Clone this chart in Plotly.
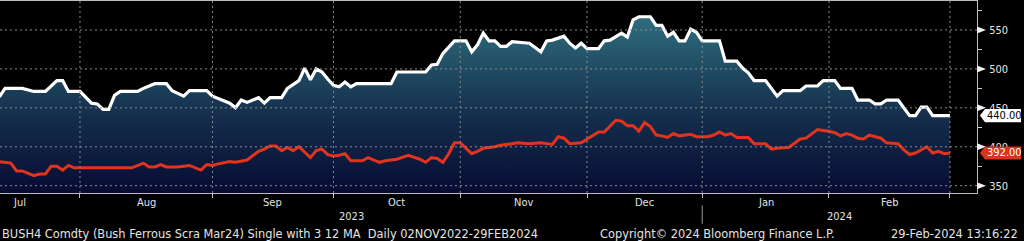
import numpy as np
import pandas as pd
import plotly.graph_objects as go

# ---------------- data ----------------
white_dates = ["2023-07-11","2023-07-12","2023-07-17","2023-07-19","2023-07-21","2023-07-25","2023-07-26","2023-07-27","2023-07-31",
    "2023-08-02","2023-08-03","2023-08-04","2023-08-07","2023-08-08","2023-08-09","2023-08-14","2023-08-15","2023-08-17","2023-08-21",
    "2023-08-22","2023-08-24","2023-08-25","2023-08-30","2023-08-31","2023-09-05","2023-09-06","2023-09-07","2023-09-08","2023-09-12",
    "2023-09-13","2023-09-14","2023-09-18","2023-09-19","2023-09-21","2023-09-22","2023-09-25","2023-09-26","2023-09-27","2023-09-28",
    "2023-09-29","2023-10-02","2023-10-03","2023-10-04","2023-10-05","2023-10-13","2023-10-16","2023-10-23","2023-10-24","2023-10-25",
    "2023-10-26","2023-10-30","2023-11-01","2023-11-02","2023-11-03","2023-11-06","2023-11-07","2023-11-08","2023-11-09","2023-11-10",
    "2023-11-13","2023-11-16","2023-11-17","2023-11-20","2023-11-21","2023-11-22","2023-11-24","2023-11-27","2023-11-28","2023-11-29",
    "2023-11-30","2023-12-04","2023-12-05","2023-12-06","2023-12-08","2023-12-11","2023-12-12","2023-12-13","2023-12-15","2023-12-18",
    "2023-12-19","2023-12-20","2023-12-21","2023-12-22","2023-12-26","2023-12-27","2023-12-28","2023-12-29","2024-01-04","2024-01-05",
    "2024-01-09","2024-01-10","2024-01-11","2024-01-12","2024-01-16","2024-01-18","2024-01-19","2024-01-24","2024-01-25","2024-01-29",
    "2024-01-30","2024-02-01","2024-02-02","2024-02-06","2024-02-07","2024-02-09","2024-02-12","2024-02-13","2024-02-14","2024-02-16",
    "2024-02-20","2024-02-21","2024-02-22","2024-02-23","2024-02-26","2024-02-29"]
white_vals = [464,475,475,471,471,485,485,471,471,
    456,455,448,448,466,471,471,475,481,481,
    472,465,472,472,465,456,450,460,457,463,
    456,463,463,475,485,501,486,500,496,487,
    479,477,483,477,481,481,496,496,505,506,
    520,536,536,522,531,546,536,536,529,529,
    535,533,528,522,536,537,542,533,527,533,
    526,526,536,537,546,541,563,567,567,556,
    556,542,547,536,536,551,547,536,536,510,
    510,501,495,485,485,465,472,472,478,478,
    485,485,475,475,460,460,455,455,460,460,
    440,440,451,451,440,440]

red_dates = ["2023-07-11","2023-07-13","2023-07-14","2023-07-17","2023-07-19","2023-07-20","2023-07-21","2023-07-24","2023-07-25",
    "2023-07-26","2023-07-27","2023-07-28","2023-08-11","2023-08-15","2023-08-16","2023-08-17","2023-08-18","2023-08-21","2023-08-23",
    "2023-08-25","2023-08-29","2023-08-30","2023-08-31","2023-09-01","2023-09-05","2023-09-06","2023-09-08","2023-09-12","2023-09-13",
    "2023-09-14","2023-09-15","2023-09-18","2023-09-19","2023-09-20","2023-09-21","2023-09-25","2023-09-26","2023-09-27","2023-09-28",
    "2023-09-29","2023-10-02","2023-10-03","2023-10-04","2023-10-06","2023-10-09","2023-10-11","2023-10-12","2023-10-16","2023-10-18",
    "2023-10-20","2023-10-23","2023-10-24","2023-10-25","2023-10-26","2023-10-27","2023-10-30","2023-10-31","2023-11-02","2023-11-03",
    "2023-11-06","2023-11-08","2023-11-09","2023-11-10","2023-11-14","2023-11-16","2023-11-20","2023-11-22","2023-11-23","2023-11-24",
    "2023-11-27","2023-11-29","2023-12-01","2023-12-04","2023-12-05","2023-12-07","2023-12-08","2023-12-11","2023-12-12","2023-12-13",
    "2023-12-14","2023-12-15","2023-12-18","2023-12-19","2023-12-20","2023-12-21","2023-12-22","2023-12-27","2023-12-28","2024-01-02",
    "2024-01-03","2024-01-04","2024-01-05","2024-01-08","2024-01-09","2024-01-11","2024-01-12","2024-01-16","2024-01-17","2024-01-18",
    "2024-01-22","2024-01-24","2024-01-25","2024-01-29","2024-01-30","2024-01-31","2024-02-01","2024-02-02","2024-02-05","2024-02-06",
    "2024-02-07","2024-02-08","2024-02-09","2024-02-13","2024-02-14","2024-02-16","2024-02-19","2024-02-20","2024-02-21","2024-02-22",
    "2024-02-23","2024-02-26","2024-02-27","2024-02-28","2024-02-29"]
red_vals = [381,379,369,369,363,365,365,375,375,
    370,376,373,373,379,374,374,377,374,374,
    376,370,377,376,378,381,380,383,394,397,
    401,401,395,399,395,400,386,395,397,390,
    388,389,391,382,382,386,380,382,384,389,
    384,380,386,385,380,391,405,405,391,394,
    398,400,402,403,405,404,405,403,413,411,
    404,405,414,419,419,434,433,427,427,420,
    431,426,415,414,412,417,414,416,413,413,
    415,419,415,417,412,412,404,404,397,398,
    399,410,411,422,421,420,418,414,417,415,
    411,410,415,411,405,404,396,390,392,396,
    400,392,394,391,392]

month_grid = ["2023-07-31","2023-08-31","2023-09-29","2023-10-31","2023-11-30","2023-12-29","2024-01-31","2024-02-29"]
month_labels = ["Jul","Aug","Sep","Oct","Nov","Dec","Jan","Feb"]
year_labels = ["2023","2024"]
holidays = ["2023-12-25","2024-01-01"]
y_ticks = [350,400,450,500,550]
y_minor = [375,425,475,525,575]
last_white = 440.00
last_red = 392.00
footer_left = "BUSH4 Comdty (Bush Ferrous Scra Mar24) Single with 3 12 MA  Daily 02NOV2022-29FEB2024"
footer_mid = "Copyright\u00a9 2024 Bloomberg Finance L.P."
footer_right = "29-Feb-2024 13:16:22"

# ---------------- trading calendar helpers ----------------
cal = pd.bdate_range("2023-06-01", "2024-03-29")
cal = cal[~cal.isin(pd.to_datetime(holidays))]
pos = {d: i for i, d in enumerate(cal)}
def idx(s):
    return pos[pd.Timestamp(s)]
def at(m):
    i = int(np.floor(m))
    return (cal[i] + pd.Timedelta(days=float(m - i))).strftime("%Y-%m-%d %H:%M:%S")

x_start = idx("2023-07-31") - 13.88
x_end = idx("2024-02-29") + 4.69

FONT = "DejaVu Sans Condensed, DejaVu Sans, sans-serif"
FONT2 = "DejaVu Sans, sans-serif"
TXT = "#e4e4e4"
GRID = "#8a8a8a"

fig = go.Figure()
fig.add_trace(go.Scatter(
    x=white_dates, y=white_vals, mode="lines",
    line=dict(color="white", width=3.2),
    fill="tozeroy",
    fillgradient=dict(type="vertical",
                      colorscale=[[0, "#070b33"], [0.45, "#15304e"], [1, "#2f6f7e"]],
                      start=341, stop=570),
    hoverinfo="skip"))
fig.add_trace(go.Scatter(
    x=red_dates, y=red_vals, mode="lines",
    line=dict(color="#e2331c", width=3),
    hoverinfo="skip"))

shapes = []
for v in y_ticks:
    shapes.append(dict(type="line", xref="paper", x0=0, x1=1, yref="y", y0=v, y1=v,
                       line=dict(color=GRID, width=1, dash="2px,3px"), layer="above"))
    shapes.append(dict(type="path", xref="paper", xsizemode="pixel", xanchor=1,
                       yref="y", ysizemode="pixel", yanchor=v,
                       path="M 0,-3.5 L 9,0 L 0,3.5 Z", fillcolor="#f0f0f0",
                       line=dict(width=0), layer="above"))
for d in month_grid:
    shapes.append(dict(type="line", xref="x", x0=d, x1=d, yref="paper", y0=0, y1=1,
                       line=dict(color=GRID, width=1, dash="2px,3px"), layer="above"))
# year separator below axis
shapes.append(dict(type="line", xref="x", x0="2023-12-29", x1="2023-12-29", yref="paper",
                   y0=-0.065, y1=-0.16, line=dict(color="#9a9a9a", width=1)))
# last-value boxes
for v, col in [(last_white, "#ffffff"), (last_red, "#d8341f")]:
    shapes.append(dict(type="path", xref="paper", xsizemode="pixel", xanchor=1,
                       yref="y", ysizemode="pixel", yanchor=v,
                       path="M 3,0 L 8,6.6 L 44,6.6 L 44,-6.6 L 8,-6.6 Z",
                       fillcolor=col, line=dict(width=0), layer="above"))

ann = []
bounds = ["2023-06-30"] + month_grid
for i, lab in enumerate(month_labels):
    m = (idx(bounds[i]) + idx(bounds[i + 1])) / 2
    ann.append(dict(x=at(m), xref="x", y=-0.049, yref="paper", text=lab, showarrow=False,
                    xanchor="center", yanchor="middle", font=dict(family=FONT, size=11, color=TXT)))
ym = [(x_start + idx("2023-12-29")) / 2, (idx("2023-12-29") + x_end) / 2]
for m, lab in zip(ym, year_labels):
    ann.append(dict(x=at(m), xref="x", y=-0.124, yref="paper", text=lab, showarrow=False,
                    xanchor="center", yanchor="middle", font=dict(family=FONT, size=11, color=TXT)))
ann.append(dict(x=0, xref="paper", y=-0.215, yref="paper", text=footer_left, showarrow=False,
                xanchor="left", yanchor="middle", font=dict(family=FONT2, size=11.4, color=TXT)))
ann.append(dict(x=598 / 977, xref="paper", y=-0.215, yref="paper", text=footer_mid, showarrow=False,
                xanchor="left", yanchor="middle", font=dict(family=FONT2, size=11.4, color=TXT)))
ann.append(dict(x=1020 / 977, xref="paper", y=-0.215, yref="paper", text=footer_right, showarrow=False,
                xanchor="right", yanchor="middle", font=dict(family=FONT2, size=11.4, color=TXT)))
for v, tc in [(last_white, "#000000"), (last_red, "#ffffff")]:
    ann.append(dict(x=1, xref="paper", xshift=8, y=v, yref="y", text=f"{v:.2f}", showarrow=False,
                    xanchor="left", yanchor="middle", font=dict(family=FONT, size=11, color=tc)))

fig.update_layout(
    width=1024, height=241,
    margin=dict(l=0, r=47, t=1, b=48),
    paper_bgcolor="black", plot_bgcolor="black",
    showlegend=False,
    shapes=shapes, annotations=ann,
    xaxis=dict(type="date", range=[at(x_start), at(x_end)],
               rangebreaks=[dict(bounds=["sat", "mon"]), dict(values=holidays)],
               tickmode="array", tickvals=month_grid, showticklabels=False,
               ticks="outside", ticklen=4, tickcolor="#c0c0c0",
               showgrid=False, zeroline=False,
               showline=True, mirror=True, linecolor="#bdbdbd", linewidth=1),
    yaxis=dict(side="right", range=[340.6, 587.2], tickmode="array", tickvals=y_ticks,
               ticks="", showgrid=False, zeroline=False,
               showline=True, linecolor="#bdbdbd", linewidth=1,
               ticklabelstandoff=9,
               tickfont=dict(family=FONT, size=11, color=TXT),
               minor=dict(tickmode="array", tickvals=y_minor, ticks="outside", ticklen=4,
                          tickcolor="#d0d0d0", tickwidth=1, showgrid=False)),
)

fig.write_html("out.html")
